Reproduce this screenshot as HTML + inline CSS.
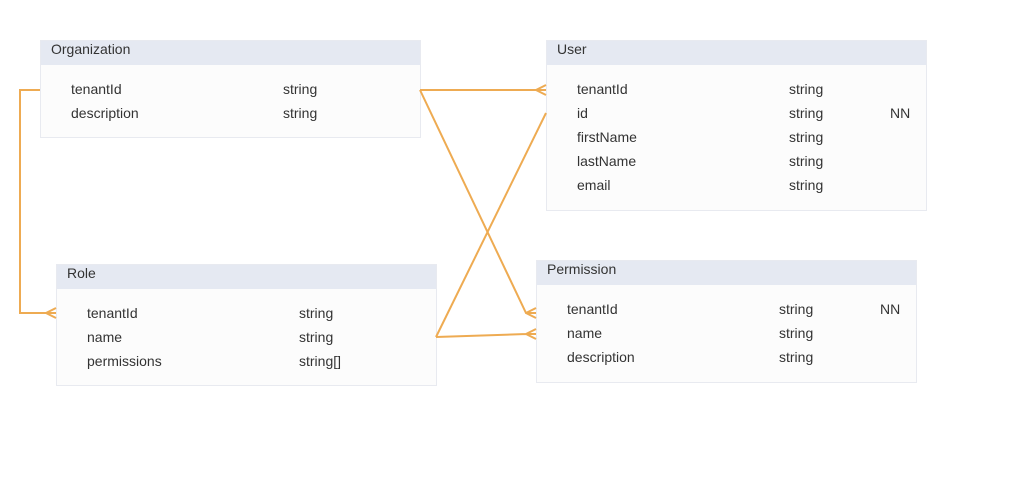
<!DOCTYPE html>
<html><head><style>
body{margin:0;width:1026px;height:485px;background:#fff;position:relative;font-family:"Liberation Sans",Arial,sans-serif;font-size:14px;color:#333;overflow:hidden}
.b{position:absolute;background:#fcfcfc;border:1px solid #e8eaf0;box-sizing:border-box}
.h{height:24px;background:#e5e9f2;padding-left:10px;line-height:17px}
.r{position:absolute;height:24px;line-height:24px;white-space:nowrap}
svg{position:absolute;left:0;top:0}
</style></head><body>
<div class="b" style="left:40px;top:40px;width:381px;height:98px"><div class="h">Organization</div>
<div class="r" style="left:30px;top:36px">tenantId</div><div class="r" style="left:242px;top:36px">string</div>
<div class="r" style="left:30px;top:60px">description</div><div class="r" style="left:242px;top:60px">string</div></div>

<div class="b" style="left:546px;top:40px;width:381px;height:171px"><div class="h">User</div>
<div class="r" style="left:30px;top:36px">tenantId</div><div class="r" style="left:242px;top:36px">string</div>
<div class="r" style="left:30px;top:60px">id</div><div class="r" style="left:242px;top:60px">string</div><div class="r" style="left:343px;top:60px">NN</div>
<div class="r" style="left:30px;top:84px">firstName</div><div class="r" style="left:242px;top:84px">string</div>
<div class="r" style="left:30px;top:108px">lastName</div><div class="r" style="left:242px;top:108px">string</div>
<div class="r" style="left:30px;top:132px">email</div><div class="r" style="left:242px;top:132px">string</div></div>

<div class="b" style="left:56px;top:264px;width:381px;height:122px"><div class="h">Role</div>
<div class="r" style="left:30px;top:36px">tenantId</div><div class="r" style="left:242px;top:36px">string</div>
<div class="r" style="left:30px;top:60px">name</div><div class="r" style="left:242px;top:60px">string</div>
<div class="r" style="left:30px;top:84px">permissions</div><div class="r" style="left:242px;top:84px">string[]</div></div>

<div class="b" style="left:536px;top:260px;width:381px;height:123px"><div class="h">Permission</div>
<div class="r" style="left:30px;top:36px">tenantId</div><div class="r" style="left:242px;top:36px">string</div><div class="r" style="left:343px;top:36px">NN</div>
<div class="r" style="left:30px;top:60px">name</div><div class="r" style="left:242px;top:60px">string</div>
<div class="r" style="left:30px;top:84px">description</div><div class="r" style="left:242px;top:84px">string</div></div>

<svg width="1026" height="485" fill="none" stroke="#eeab52" stroke-width="2">
<path d="M40 90H20V313H56M46 313L56 308M46 313L56 318"/>
<path d="M420 90H546M536 90L546 85M536 90L546 95"/>
<path d="M420 90L526 313H536M526 313L536 308M526 313L536 318"/>
<path d="M436 337L546 113"/>
<path d="M436 337L526 334H536M526 334L536 329M526 334L536 339"/>
</svg>
</body></html>
